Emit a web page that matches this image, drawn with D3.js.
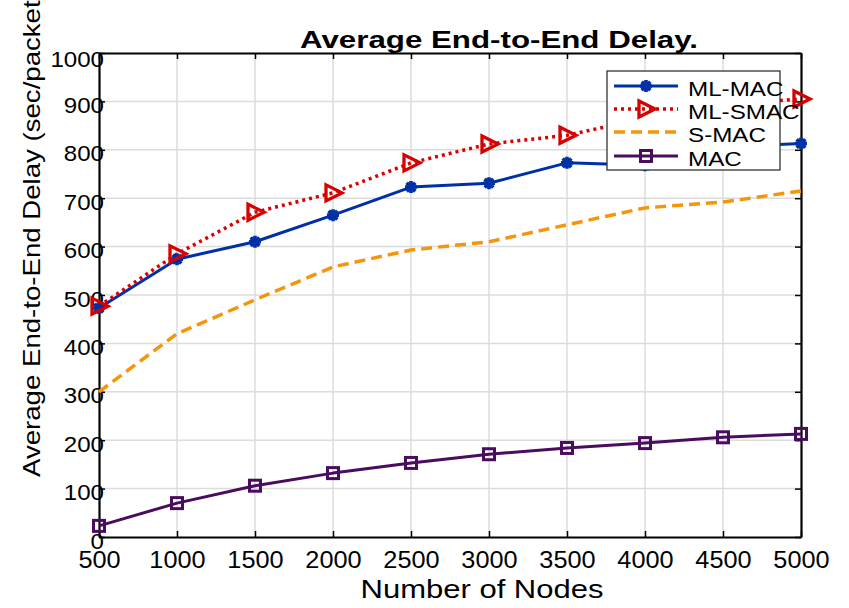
<!DOCTYPE html>
<html>
<head>
<meta charset="utf-8">
<script src="https://cdn.jsdelivr.net/npm/d3@7"></script>
<style>
  body { margin: 0; background: #fff; }
  text { font-family: "Liberation Sans", Arial, sans-serif; fill: #000; }
</style>
</head>
<body>
<svg id="chart" width="849" height="608"></svg>
<script>
// data
const nodes = [500, 1000, 1500, 2000, 2500, 3000, 3500, 4000, 4500, 5000];
const mlMac  = [473, 574, 610, 665, 723, 731, 773, 768, 806, 813];
const mlSmac = [477, 585, 671, 711, 773, 812, 830, 865, 893, 905];
const sMac   = [300, 420, 490, 558, 593, 610, 645, 680, 692, 715];
const mac    = [23, 70, 106, 132, 153, 171, 184, 194, 206, 213];
const seriesNames = ["ML-MAC", "ML-SMAC", "S-MAC", "MAC"];
const xTicks = [500, 1000, 1500, 2000, 2500, 3000, 3500, 4000, 4500, 5000];
const yTicks = [0, 100, 200, 300, 400, 500, 600, 700, 800, 900, 1000];

const series = [
  {name: seriesNames[0], values: mlMac,  color: "#0030a8", dash: null,   width: 3,   marker: "star"},
  {name: seriesNames[1], values: mlSmac, color: "#d80000", dash: "3,4",  width: 3.5, marker: "tri"},
  {name: seriesNames[2], values: sMac,   color: "#f5960a", dash: "11,6", width: 3.5, marker: null},
  {name: seriesNames[3], values: mac,    color: "#4a0c5e", dash: null,   width: 3,   marker: "square"}
];

const svg = d3.select("#chart");
const pLeft = 99, pRight = 801, pTop = 53, pBottom = 537;

const x = d3.scaleLinear().domain([500, 5000]).range([pLeft, pRight]);
const y = d3.scaleLinear().domain([0, 1000]).range([pBottom, pTop]);

// stretch text horizontally, the figure's font is wider than Arial
function stretch(sel, k) {
  sel.each(function() {
    const w = this.getComputedTextLength();
    d3.select(this).attr("textLength", w * k).attr("lengthAdjust", "spacingAndGlyphs");
  });
}

// grid
const grid = svg.append("g").attr("stroke", "#dcdcdc").attr("stroke-width", 1.5);
grid.selectAll(".gx").data(xTicks.slice(1, -1)).join("line")
  .attr("x1", d => x(d)).attr("x2", d => x(d)).attr("y1", pTop).attr("y2", pBottom);
grid.selectAll(".gy").data(yTicks.slice(1, -1)).join("line")
  .attr("x1", pLeft).attr("x2", pRight).attr("y1", d => y(d)).attr("y2", d => y(d));

// axes with inward ticks
const fmt = d3.format("d");
const axB = svg.append("g").attr("transform", `translate(0,${pBottom})`)
  .call(d3.axisBottom(x).tickValues(xTicks).tickFormat(fmt).tickSizeInner(-6).tickSizeOuter(0).tickPadding(15));
const axT = svg.append("g").attr("transform", `translate(0,${pTop})`)
  .call(d3.axisTop(x).tickValues(xTicks).tickSizeInner(-6).tickSizeOuter(0).tickFormat(""));
const axL = svg.append("g").attr("transform", `translate(${pLeft},0)`)
  .call(d3.axisLeft(y).tickValues(yTicks).tickFormat(fmt).tickSizeInner(-6).tickSizeOuter(0).tickPadding(-5));
const axR = svg.append("g").attr("transform", `translate(${pRight},0)`)
  .call(d3.axisRight(y).tickValues(yTicks).tickSizeInner(-6).tickSizeOuter(0).tickFormat(""));

[axB, axT, axL, axR].forEach(a => {
  a.select(".domain").attr("stroke", "#000").attr("stroke-width", 2.2);
  a.selectAll(".tick line").attr("stroke", "#000").attr("stroke-width", 1.5);
  a.selectAll("text").style("font-family", '"Liberation Sans", Arial, sans-serif').attr("fill", "#000");
});
axB.selectAll(".tick text").attr("font-size", 23);
axL.selectAll(".tick text").attr("font-size", 21.5).attr("dy", "0.52em");
axL.selectAll(".tick text").filter(d => d === 1000).attr("dy", "0.62em");
stretch(axB.selectAll(".tick text"), 1.1);
stretch(axL.selectAll(".tick text"), 1.12);

// lines
const line = d3.line().x((d, i) => x(nodes[i])).y(d => y(d));
series.forEach(s => {
  svg.append("path").datum(s.values)
    .attr("fill", "none").attr("stroke", s.color).attr("stroke-width", s.width)
    .attr("stroke-dasharray", s.dash).attr("stroke-linejoin", "round")
    .attr("d", line);
});

// markers
function marker(g, type, color) {
  if (type === "star") {
    const r = 6, q = r * 0.72;
    g.append("path").attr("fill", "none").attr("stroke", color).attr("stroke-width", 3.6)
      .attr("d", `M${-r},0H${r}M0,${-r}V${r}M${-q},${-q}L${q},${q}M${-q},${q}L${q},${-q}`);
    g.append("circle").attr("r", 3.5).attr("fill", color);
  } else if (type === "tri") {
    g.append("path").attr("fill", "none").attr("stroke", color).attr("stroke-width", 3.3)
      .attr("stroke-linejoin", "miter").attr("d", "M-7,-8L-7,8L9,0Z");
  } else if (type === "square") {
    g.append("rect").attr("x", -5.5).attr("y", -5.5).attr("width", 11).attr("height", 11)
      .attr("fill", "none").attr("stroke", color).attr("stroke-width", 3);
  }
}
series.filter(s => s.marker).forEach(s => {
  s.values.forEach((v, i) => {
    const g = svg.append("g").attr("transform", `translate(${x(nodes[i])},${y(v)})`);
    marker(g, s.marker, s.color);
  });
});

// legend
const lg = svg.append("g");
lg.append("rect").attr("x", 607).attr("y", 71).attr("width", 173).attr("height", 99)
  .attr("fill", "#fff").attr("stroke", "#333").attr("stroke-width", 1.3);
const rowY = [86, 109, 132, 156];
series.forEach((s, i) => {
  lg.append("line").attr("x1", 614).attr("x2", 678).attr("y1", rowY[i]).attr("y2", rowY[i])
    .attr("stroke", s.color).attr("stroke-width", s.width).attr("stroke-dasharray", s.dash);
  if (s.marker) marker(lg.append("g").attr("transform", `translate(646,${rowY[i]})`), s.marker, s.color);
  const t = lg.append("text").attr("x", 688).attr("y", rowY[i] + 10).attr("font-size", 20.5).text(s.name);
  stretch(t, 1.18);
});

// title and axis labels
svg.append("text").attr("x", 499).attr("y", 48).attr("text-anchor", "middle")
  .attr("font-size", 24).attr("font-weight", "bold")
  .attr("textLength", 398).attr("lengthAdjust", "spacingAndGlyphs")
  .text("Average End-to-End Delay.");

svg.append("text").attr("x", 482).attr("y", 598).attr("text-anchor", "middle")
  .attr("font-size", 26).attr("textLength", 243).attr("lengthAdjust", "spacingAndGlyphs")
  .text("Number of Nodes");

const yl = svg.append("text").attr("transform", "translate(40,477) rotate(-90)")
  .attr("font-size", 24).text("Average End-to-End Delay (sec/packet)");
stretch(yl, 1.15);
</script>
</body>
</html>
